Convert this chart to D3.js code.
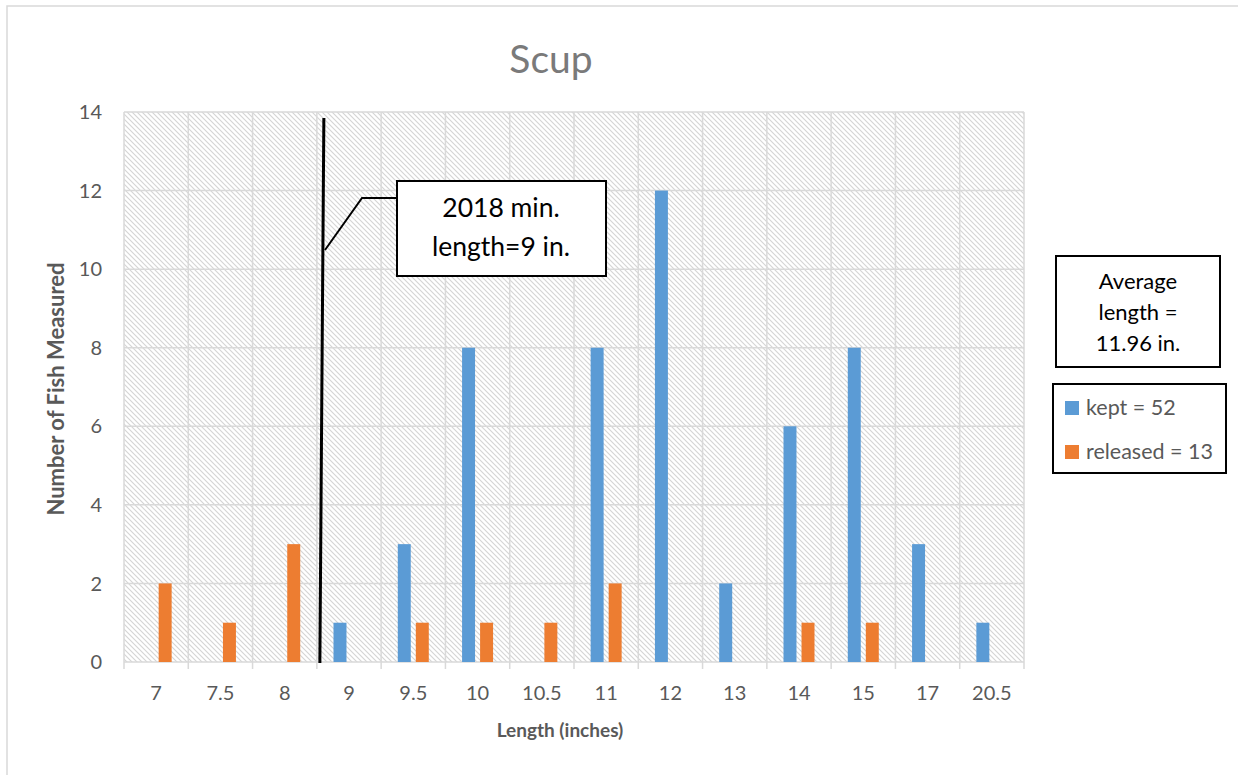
<!DOCTYPE html>
<html>
<head>
<meta charset="utf-8">
<script src="https://cdn.jsdelivr.net/npm/d3@7"></script>
<style>
  html, body { margin: 0; padding: 0; background: #fff; }
  svg { display: block; font-family: Lato, "Open Sans", sans-serif; }
</style>
</head>
<body>
<svg id="chart" width="1238" height="775"></svg>
<script>
const categories = ["7","7.5","8","9","9.5","10","10.5","11","12","13","14","15","17","20.5"];
const kept     = [0,0,0,1,3,8,0,8,12,2,6,8,3,1];
const released = [2,1,3,0,1,1,1,2,0,0,1,1,0,0];
const seriesNames = ["kept","released"];
const seriesLabels = ["kept = 52","released = 13"];
const seriesColors = ["#5b9bd5","#ed7d31"];
const yTicks = [0,2,4,6,8,10,12,14];
const chartTitle = "Scup";
const xTitle = "Length (inches)";
const yTitle = "Number of Fish Measured";
const minNote = ["2018 min.","length=9 in."];
const avgNote = ["Average","length =","11.96 in."];
const minLengthCategory = "9";

const svg = d3.select("#chart");
const L = 124, R = 1024, T = 112, B = 662;

const x = d3.scaleBand().domain(categories).range([L, R]).padding(0);
const bw = x.bandwidth();
const x1 = d3.scaleBand().domain(seriesNames).range([bw/2 - 15.5, bw/2 + 15.5]).paddingInner(0.28).paddingOuter(0);
const y = d3.scaleLinear().domain([0, 14]).range([B, T]);

// outer chart border
svg.append("path").attr("d", `M7,776 L7,6 L1240,6`).attr("fill","none").attr("stroke","#d9d9d9").attr("stroke-width",1.5);

// hatch pattern
const defs = svg.append("defs");
const pat = defs.append("pattern").attr("id","hatch").attr("patternUnits","userSpaceOnUse")
  .attr("width",5).attr("height",5);
pat.append("rect").attr("width",5).attr("height",5).attr("fill","#fff");
pat.append("path").attr("d","M0,0 L5,5 M-1,4 L1,6 M4,-1 L6,1")
  .attr("stroke","#d4d4d4").attr("stroke-width",1.1).attr("shape-rendering","auto");

svg.append("rect").attr("x",L).attr("y",T).attr("width",R-L).attr("height",B-T).attr("fill","url(#hatch)");

// horizontal gridlines
svg.append("g").selectAll("line").data(yTicks).join("line")
  .attr("x1",L).attr("x2",R).attr("y1",d=>y(d)).attr("y2",d=>y(d))
  .attr("stroke","#d9d9d9").attr("stroke-width",1.5);

// vertical gridlines at category boundaries (+ tick marks)
const bounds = categories.map(c => x(c)).concat([R]);
svg.append("g").selectAll("line").data(bounds).join("line")
  .attr("x1",d=>d).attr("x2",d=>d).attr("y1",T).attr("y2",B+7)
  .attr("stroke","#d9d9d9").attr("stroke-width",1.5);

// y tick labels
svg.append("g").selectAll("text").data(yTicks).join("text")
  .attr("x",102).attr("y",d=>y(d)).attr("dy","0.36em")
  .attr("text-anchor","end").attr("font-size",20).attr("fill","#595959")
  .text(d=>d);

// x tick labels
svg.append("g").selectAll("text").data(categories).join("text")
  .attr("x",d=>x(d)+bw/2).attr("y",700)
  .attr("text-anchor","middle").attr("font-size",20).attr("fill","#595959")
  .text(d=>d);

// bars
const series = [kept, released];
series.forEach((vals, si) => {
  svg.append("g").selectAll("rect")
    .data(categories.map((c,i)=>({c, v: vals[i]})).filter(d=>d.v>0))
    .join("rect")
    .attr("x", d => x(d.c) + x1(seriesNames[si]))
    .attr("width", x1.bandwidth())
    .attr("y", d => y(d.v))
    .attr("height", d => y(0) - y(d.v))
    .attr("fill", seriesColors[si]);
});

// title
svg.append("text").attr("x",551).attr("y",73).attr("text-anchor","middle")
  .attr("font-size",39).attr("fill","#7a7a7a").text(chartTitle);

// axis titles
svg.append("text").attr("x",560).attr("y",737).attr("text-anchor","middle")
  .attr("font-size",19).attr("font-weight","bold").attr("fill","#595959").text(xTitle);
svg.append("text").attr("transform",`translate(64,${(T+B)/2+2}) rotate(-90)`)
  .attr("text-anchor","middle").attr("font-size",22).attr("font-weight","bold")
  .attr("fill","#595959").text(yTitle);

// minimum length line
const mx = x(minLengthCategory);
svg.append("line").attr("x1",mx+7).attr("y1",y(14)+6).attr("x2",mx+3).attr("y2",y(0)+1)
  .attr("stroke","#000").attr("stroke-width",3);

// callout leader + box
svg.append("path").attr("d","M397,198 L362,198 L325,250").attr("fill","none")
  .attr("stroke","#000").attr("stroke-width",2);
svg.append("rect").attr("x",397).attr("y",181).attr("width",209).attr("height",95)
  .attr("fill","#fff").attr("stroke","#000").attr("stroke-width",2);
svg.append("g").selectAll("text").data(minNote).join("text")
  .attr("x",501).attr("y",(d,i)=>217+i*39).attr("text-anchor","middle")
  .attr("font-size",26.5).attr("fill","#000").text(d=>d);

// average box
svg.append("rect").attr("x",1056).attr("y",256).attr("width",164).attr("height",111)
  .attr("fill","#fff").attr("stroke","#000").attr("stroke-width",2);
svg.append("g").selectAll("text").data(avgNote).join("text")
  .attr("x",1138).attr("y",(d,i)=>289+i*31).attr("text-anchor","middle")
  .attr("font-size",22).attr("fill","#000").text(d=>d);

// legend
svg.append("rect").attr("x",1053).attr("y",384).attr("width",173).attr("height",89)
  .attr("fill","#fff").attr("stroke","#000").attr("stroke-width",2);
const lg = svg.append("g").selectAll("g").data(seriesLabels).join("g")
  .attr("transform",(d,i)=>`translate(1065,${401+i*44})`);
lg.append("rect").attr("width",14).attr("height",14).attr("fill",(d,i)=>seriesColors[i]);
lg.append("text").attr("x",21).attr("y",14).attr("font-size",21.5).attr("fill","#595959").text(d=>d);
</script>
</body>
</html>
